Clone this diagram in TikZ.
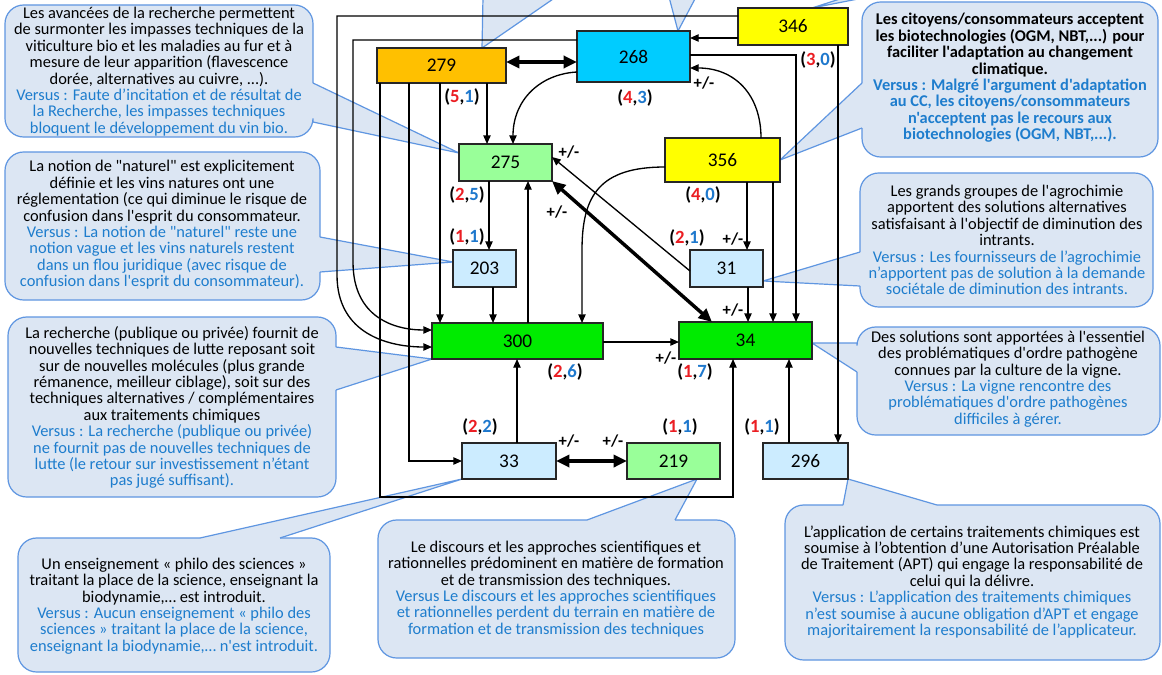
\documentclass[tikz,border=0pt]{standalone}
\usepackage{fontspec}
\setmainfont{Carlito}[Ligatures=TeXOff]
\usetikzlibrary{arrows.meta}
\pgfdeclarelayer{background}
\pgfsetlayers{background,main}

\newlength{\px}\setlength{\px}{0.75pt}
\newcommand{\crad}{14pt}
\newcommand{\callfont}{\fontsize{12.3}{12.3}\selectfont\lineskiplimit=-20pt\relax}
\newcommand{\vsus}[1]{\textcolor{vblue}{#1}}
\newcommand{\duo}[2]{(\textcolor{nred}{#1},\textcolor{nblue}{#2})}

\definecolor{cfill}{RGB}{220,230,243}
\definecolor{cedge}{RGB}{95,150,225}
\definecolor{vblue}{RGB}{30,125,205}
\definecolor{nred}{RGB}{235,30,35}
\definecolor{nblue}{RGB}{30,120,205}
\definecolor{yel}{RGB}{255,255,0}
\definecolor{cyanbox}{RGB}{0,204,255}
\definecolor{orangebox}{RGB}{255,192,0}
\definecolor{lgreen}{RGB}{153,255,153}
\definecolor{bgreen}{RGB}{0,235,0}
\definecolor{lblue}{RGB}{204,236,255}

\tikzset{
  box/.style={draw=black!85, line width=0.8pt, inner sep=0pt, outer sep=0pt,
    font=\fontsize{14.5}{16}\selectfont},
  calltext/.style={align=center, inner sep=0pt, font=\callfont},
  arr/.style={line width=1pt, -{Triangle[length=6.5pt,width=5.5pt]}},
  dbl/.style={line width=2.6pt, {Triangle[length=10pt,width=9pt]}-{Triangle[length=10pt,width=9pt]}},
  pm/.style={font=\bfseries\fontsize{12.5}{13}\selectfont, inner sep=0pt},
  cnt/.style={font=\bfseries\fontsize{14}{15}\selectfont, inner sep=0pt},
  cbord/.style={draw=cedge, line width=0.9pt},
}

% callout with its pointer on the right edge: L,T,R,B, y1,y2, apex
\newcommand{\bubbleR}[7]{%
  \fill[cfill,rounded corners=\crad] (#1,#2) rectangle (#3,#4);
  \fill[cfill] (#3,#5) -- (#7) -- (#3,#6) -- (#3-4,#6) -- (#3-4,#5) -- cycle;
  \draw[cbord,rounded corners=\crad] (#3,#6) -- (#3,#4) -- (#1,#4) -- (#1,#2) -- (#3,#2) -- (#3,#5);
  \draw[cbord] (#3,#5) -- (#7) -- (#3,#6);
}
% callout with its pointer on the left edge
\newcommand{\bubbleL}[7]{%
  \fill[cfill,rounded corners=\crad] (#1,#2) rectangle (#3,#4);
  \fill[cfill] (#1,#5) -- (#7) -- (#1,#6) -- (#1+4,#6) -- (#1+4,#5) -- cycle;
  \draw[cbord,rounded corners=\crad] (#1,#5) -- (#1,#2) -- (#3,#2) -- (#3,#4) -- (#1,#4) -- (#1,#6);
  \draw[cbord] (#1,#5) -- (#7) -- (#1,#6);
}
% callout with its pointer on the top edge: L,T,R,B, x1,x2, apex
\newcommand{\bubbleT}[7]{%
  \fill[cfill,rounded corners=\crad] (#1,#2) rectangle (#3,#4);
  \fill[cfill] (#5,#2) -- (#7) -- (#6,#2) -- (#6,#2+4) -- (#5,#2+4) -- cycle;
  \draw[cbord,rounded corners=\crad] (#6,#2) -- (#3,#2) -- (#3,#4) -- (#1,#4) -- (#1,#2) -- (#5,#2);
  \draw[cbord] (#5,#2) -- (#7) -- (#6,#2);
}
% pointer of a callout lying above the sheet
\newcommand{\toptip}[3]{%
  \fill[cfill] (#1) -- (#2) -- (#3) -- cycle;
  \draw[cbord] (#2) -- (#1) -- (#3);
}

\begin{document}
\begin{tikzpicture}[x=0.75pt,y=-0.75pt]
\useasboundingbox (0,0) rectangle (1162,674);
\clip (0,0) rectangle (1162,674);

% ---------- variables ----------
\node[box, fill=yel,       minimum width=110\px, minimum height=37\px] (n346) at (793,26.5) {346};
\node[box, fill=cyanbox,   minimum width=113\px, minimum height=51\px] (n268) at (633.5,56.5) {268};
\node[box, fill=orangebox, minimum width=129\px, minimum height=35\px] (n279) at (441.5,65.5) {279};
\node[box, fill=lgreen,    minimum width=93\px,  minimum height=37\px] (n275) at (505.5,162.5) {275};
\node[box, fill=yel,       minimum width=115\px, minimum height=44\px] (n356) at (722.5,160) {356};
\node[box, fill=lblue,     minimum width=63\px,  minimum height=37\px] (n203) at (484.5,268.5) {203};
\node[box, fill=lblue,     minimum width=73\px,  minimum height=37\px] (n31)  at (726.5,268.5) {31};
\node[box, fill=bgreen,    minimum width=171\px, minimum height=36\px] (n300) at (517.5,341) {300};
\node[box, fill=bgreen,    minimum width=133\px, minimum height=37\px] (n34)  at (745.5,340.5) {34};
\node[box, fill=lblue,     minimum width=94\px,  minimum height=36\px] (n33)  at (509,461) {33};
\node[box, fill=lgreen,    minimum width=93\px,  minimum height=36\px] (n219) at (673.5,461) {219};
\node[box, fill=lblue,     minimum width=85\px,  minimum height=36\px] (n296) at (805.5,461) {296};

% ---------- influences ----------
\draw[arr] (n346.west |- 0,38) -- (n268.east |- 0,38);
\draw[arr] (n346.west |- 0,16) -- (337,16) -- (337,275)
  .. controls (337,335) and (390,347) .. (n300.west |- 0,347);
\draw[arr] (n268.west |- 0,40) -- (353,40) -- (353,262)
  .. controls (353,318) and (395,330) .. (n300.west |- 0,330);
\draw[dbl] (n279.east |- 0,62) -- (n268.west |- 0,62);
\draw[arr] (n268.west |- 0,72) .. controls (540,74) and (513,100) .. (n275.north -| 513,0);
\draw[arr] (n279.south -| 487,0) -- (n275.north -| 487,0);
\draw[arr] (n279.south -| 440,0) -- (n300.north -| 440,0);
\draw[arr] (n279.south -| 409,0) |- (n33.west);
\draw[arr] (n279.south -| 380,0) -- (380,497) -| (n34.south -| 733,0);
\draw[arr] (n268.east |- 0,55) -| (n34.north -| 796,0);
\draw[arr] (n346.south -| 838,0) -- (n296.north -| 838,0);
\draw[arr] (n356.north -| 761,0) .. controls (761,95) and (735,68) .. (n268.east |- 0,68);
\draw[arr] (n356.west |- 0,167) .. controls (600,167) and (582,195) .. (582,250) -- (n300.north -| 582,0);
\draw[arr] (n356.south -| 747,0) -- (n31.north -| 747,0);
\draw[arr] (n356.south -| 773,0) -- (n34.north -| 773,0);
\draw[arr] (n275.south -| 489,0) -- (n203.north -| 489,0);
\draw[arr] (n203.south -| 493,0) -- (n300.north -| 493,0);
\draw[arr] (n300.north -| 528,0) -- (n275.south -| 528,0);
\draw[arr] (n31.west |- 0,271) -- (n275.east |- 0,157);
\draw[dbl] (n275.south east) -- (n34.north -| 712,0);
\draw[arr] (n31.south -| 748,0) -- (n34.north -| 748,0);
\draw[arr] (n300.east |- 0,342) -- (n34.west |- 0,342);
\draw[arr] (n33.north -| 517,0) -- (n300.south -| 517,0);
\draw[dbl] (n33.east) -- (n219.west);
\draw[arr] (n296.north -| 789,0) -- (n34.south -| 789,0);

% ---------- signs ----------
\node[pm] (pm1) at (704,83) {+/-};
\node[pm] (pm2) at (569,152) {+/-};
\node[pm] (pm3) at (557,212) {+/-};
\node[pm] (pm4) at (733,239) {+/-};
\node[pm] (pm5) at (733,310) {+/-};
\node[pm] (pm6) at (666,358) {+/-};
\node[pm] (pm7) at (569,441) {+/-};
\node[pm] (pm8) at (613,441) {+/-};

% ---------- counts ----------
\node[cnt] (k1)  at (462,97)  {\duo{5}{1}};
\node[cnt] (k2)  at (635,98)  {\duo{4}{3}};
\node[cnt] (k3)  at (818,60)  {\duo{3}{0}};
\node[cnt] (k4)  at (467,195) {\duo{2}{5}};
\node[cnt] (k5)  at (467,237) {\duo{1}{1}};
\node[cnt] (k6)  at (703,195) {\duo{4}{0}};
\node[cnt] (k7)  at (687,238) {\duo{2}{1}};
\node[cnt] (k8)  at (565,372) {\duo{2}{6}};
\node[cnt] (k9)  at (695,372) {\duo{1}{7}};
\node[cnt] (k10) at (480,427) {\duo{2}{2}};
\node[cnt] (k11) at (680,427) {\duo{1}{1}};
\node[cnt] (k12) at (762,427) {\duo{1}{1}};

% ---------- comment bubbles ----------
\begin{pgfonlayer}{background}
\fill[white] (0,0) rectangle (1162,674);
\toptip{n279.north -| 482,0}{483,-3}{556,-3}
\toptip{n268.north -| 678,0}{669,-3}{696,-3}
\toptip{n346.north -| 812,0}{846,-3}{868,-3}

\bubbleR{5}{5}{313}{137}{83}{122}{n275.west |- 0,153}
\bubbleL{862}{2}{1158}{157}{83}{128}{n356.east |- 0,160}
\bubbleR{5}{152}{320}{300}{237}{272}{n203.west |- 0,262}
\bubbleL{860}{173}{1153}{307}{252}{286}{n31.east |- 0,281}
\bubbleR{8}{317}{336}{497}{347}{390}{n300.south west}
\bubbleL{857}{327}{1160}{435}{343}{372}{n34.east |- 0,343}
\bubbleT{18}{538}{330}{672}{200}{280}{n33.south west}
\bubbleT{378}{520}{735}{658}{587}{675}{n219.south -| 697,0}
\bubbleT{785}{505}{1160}{660}{843}{937}{n296.south east}
\end{pgfonlayer}

\node[calltext] (c1) at (159,71.5) {Les avancées de la recherche permettent\\
de surmonter les impasses techniques de la\\
viticulture bio et les maladies au fur et à\\
mesure de leur apparition (flavescence\\
dorée, alternatives au cuivre, ...).\\
\vsus{Versus : Faute d’incitation et de résultat de}\\
\vsus{la Recherche, les impasses techniques}\\
\vsus{bloquent le développement du vin bio.}};

\node[calltext, font=\callfont\bfseries] (c2) at (1010,78) {Les citoyens/consommateurs acceptent\\
les biotechnologies (OGM, NBT,...) pour\\
faciliter l'adaptation au changement\\
climatique.\\
\vsus{Versus : Malgré l'argument d'adaptation}\\
\vsus{au CC, les citoyens/consommateurs}\\
\vsus{n'acceptent pas le recours aux}\\
\vsus{biotechnologies (OGM, NBT,...).}};

\node[calltext] (c3) at (162,225) {La notion de "naturel" est explicitement\\
définie et les vins natures ont une\\
réglementation (ce qui diminue le risque de\\
confusion dans l'esprit du consommateur.\\
\vsus{Versus : La notion de "naturel" reste une}\\
\vsus{notion vague et les vins naturels restent}\\
\vsus{dans un flou juridique (avec risque de}\\
\vsus{confusion dans l'esprit du consommateur).}};

\node[calltext] (c4) at (1007,240) {Les grands groupes de l'agrochimie\\
apportent des solutions alternatives\\
satisfaisant à l'objectif de diminution des\\
intrants.\\
\vsus{Versus : Les fournisseurs de l’agrochimie}\\
\vsus{n’apportent pas de solution à la demande}\\
\vsus{sociétale de diminution des intrants.}};

\node[calltext] (c5) at (172,407.5) {La recherche (publique ou privée) fournit de\\
nouvelles techniques de lutte reposant soit\\
sur de nouvelles molécules (plus grande\\
rémanence, meilleur ciblage), soit sur des\\
techniques alternatives / complémentaires\\
aux traitements chimiques\\
\vsus{Versus : La recherche (publique ou privée)}\\
\vsus{ne fournit pas de nouvelles techniques de}\\
\vsus{lutte (le retour sur investissement n’étant}\\
\vsus{pas jugé suffisant).}};

\node[calltext] (c6) at (1008,379) {Des solutions sont apportées à l'essentiel\\
des problématiques d'ordre pathogène\\
connues par la culture de la vigne.\\
\vsus{Versus : La vigne rencontre des}\\
\vsus{problématiques d'ordre pathogènes}\\
\vsus{difficiles à gérer.}};

\node[calltext] (c7) at (174,606) {Un enseignement « philo des sciences »\\
traitant la place de la science, enseignant la\\
biodynamie,… est introduit.\\
\vsus{Versus : Aucun enseignement « philo des}\\
\vsus{sciences » traitant la place de la science,}\\
\vsus{enseignant la biodynamie,… n'est introduit.}};

\node[calltext] (c8) at (556,589) {Le discours et les approches scientifiques et\\
rationnelles prédominent en matière de formation\\
et de transmission des techniques.\\
\vsus{Versus Le discours et les approches scientifiques}\\
\vsus{et rationnelles perdent du terrain en matière de}\\
\vsus{formation et de transmission des techniques}};

\node[calltext] (c9) at (972,582) {L’application de certains traitements chimiques est\\
soumise à l’obtention d’une Autorisation Préalable\\
de Traitement (APT) qui engage la responsabilité de\\
celui qui la délivre.\\
\vsus{Versus : L’application des traitements chimiques}\\
\vsus{n’est soumise à aucune obligation d’APT et engage}\\
\vsus{majoritairement la responsabilité de l’applicateur.}};
\end{tikzpicture}
\end{document}
